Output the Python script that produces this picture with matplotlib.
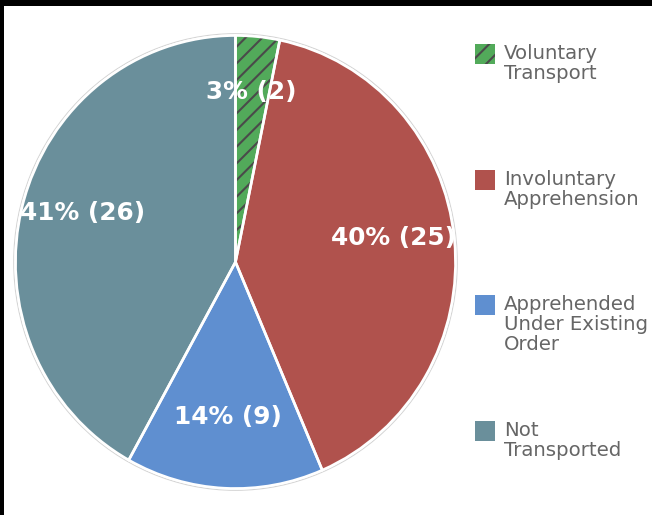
import matplotlib
matplotlib.use("Agg")
import matplotlib.pyplot as plt
from matplotlib.patches import Rectangle, Ellipse

# Data
categories = ["Voluntary\nTransport", "Involuntary\nApprehension",
              "Apprehended\nUnder Existing\nOrder", "Not\nTransported"]
counts = [2, 25, 9, 26]
colors = ["#52aa5a", "#b0524d", "#5f8fd0", "#6a8f9b"]
hatches = ["//", None, None, None]

W, H = 652, 515
fig = plt.figure(figsize=(W / 100, H / 100), dpi=100)


def px(x, y):
    # pixel coords (top-left origin) -> figure fraction
    return x / W, 1 - y / H


# Pie axes: center (235.5, 262), radius ~220 px wide, ~226.5 px tall
cx, cy, rx, ry = 235.5, 262, 220, 226.5
lim = 1.05
ax = fig.add_axes([(cx - rx * lim) / W, (H - cy - ry * lim) / H,
                   2 * rx * lim / W, 2 * ry * lim / H])

total = sum(counts)


def fmt(pct):
    n = int(round(pct * total / 100.0))
    return "%d%% (%d)" % (int(pct), n)


plt.rcParams["hatch.linewidth"] = 1.5

# faint outline around the pie
ax.add_patch(Ellipse((0, 0), 2.016, 2.016, facecolor="none",
                     edgecolor="#d4d4d4", lw=0.8, zorder=0))

# faces (with hatch), then white separators on top
wedges, _, autotexts = ax.pie(counts, colors=colors, startangle=90,
                              counterclock=False, autopct=fmt,
                              pctdistance=0.72,
                              wedgeprops=dict(edgecolor="#4a4a4a", linewidth=0))
for w, h in zip(wedges, hatches):
    if h:
        w.set_hatch(h)
ax.pie(counts, colors=["none"] * len(counts), startangle=90, counterclock=False,
       wedgeprops=dict(edgecolor="white", linewidth=1.9))
for t in autotexts:
    x, y = t.get_position()
    t.set_position((x, y + 8 / ry))
    t.set_color("white")
    t.set_fontweight("bold")
    t.set_fontsize(17.8)
    t.set_zorder(5)

ax.set_aspect("auto")
ax.set_xlim(-lim, lim)
ax.set_ylim(-lim, lim)
ax.axis("off")

# legend drawn by hand so each swatch lines up with the first text line
slot_tops = [44, 170, 295, 421]
for label, color, hatch, top in zip(categories, colors, hatches, slot_tops):
    x0, y0 = px(475, top + 19.5)
    fig.add_artist(Rectangle((x0, y0), 19.5 / W, 19.5 / H, transform=fig.transFigure,
                             facecolor=color, edgecolor="#4a4a4a" if hatch else color,
                             lw=0, hatch=hatch))
    tx, ty = px(504, top)
    fig.text(tx, ty, label, color="#666666", fontsize=14.2, va="top", ha="left",
             linespacing=1.07)

# black frame pieces along top and left edges
fig.add_artist(Rectangle((0, 1 - 5.5 / H), 1, 5.5 / H, transform=fig.transFigure,
                         facecolor="black", lw=0))
fig.add_artist(Rectangle((0, 0), 4 / W, 1, transform=fig.transFigure,
                         facecolor="black", lw=0))

fig.savefig("out.png", dpi=100)
